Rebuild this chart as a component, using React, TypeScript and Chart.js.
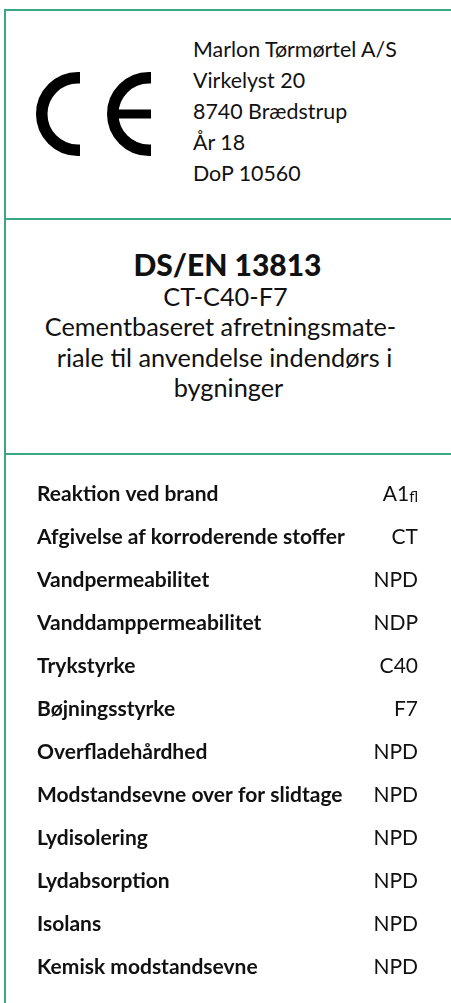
import React, { useEffect, useRef } from "react";
import { Chart, registerables } from "chart.js";

Chart.register(...registerables);

const GREEN = "#37a880";
const INK = "#111111";

const addressLines = ["Marlon Tørmørtel A/S", "Virkelyst 20", "8740 Brædstrup", "År 18", "DoP 10560"];
const standardTitle = "DS/EN 13813";
const productCode = "CT-C40-F7";
const descriptionLines = ["Cementbaseret afretningsmate-", "riale til anvendelse indendørs i", "bygninger"];

const properties = [
  "Reaktion ved brand",
  "Afgivelse af korroderende stoffer",
  "Vandpermeabilitet",
  "Vanddamppermeabilitet",
  "Trykstyrke",
  "Bøjningsstyrke",
  "Overfladehårdhed",
  "Modstandsevne over for slidtage",
  "Lydisolering",
  "Lydabsorption",
  "Isolans",
  "Kemisk modstandsevne",
];
const values = ["A1", "CT", "NPD", "NDP", "C40", "F7", "NPD", "NPD", "NPD", "NPD", "NPD", "NPD"];
const valueSubscripts = ["fl", "", "", "", "", "", "", "", "", "", "", ""];

const FONT = "Lato, 'Noto Sans', sans-serif";
const LABEL_SIZE = 21;
const VALUE_SIZE = 21;

function lineTop(baseline: number, fs: number) {
  return baseline - 0.887 * fs;
}

function TextLine(props: {
  text: string;
  baseline: number;
  fs: number;
  left?: number;
  center?: boolean;
  shift?: number;
  weight?: number;
}) {
  const { text, baseline, fs, left, center, shift, weight } = props;
  const style: React.CSSProperties = {
    position: "absolute",
    top: lineTop(baseline, fs),
    fontSize: fs,
    lineHeight: `${fs}px`,
    fontWeight: weight ?? 400,
    whiteSpace: "nowrap",
    color: INK,
  };
  if (center) {
    style.left = 4 + (shift ?? 0) * 2;
    style.width = 447;
    style.textAlign = "center";
  } else {
    style.left = left;
  }
  return <div style={style}>{text}</div>;
}

const valueColumnPlugin = {
  id: "valueColumn",
  afterDraw(chart: any) {
    const ctx = chart.ctx as CanvasRenderingContext2D;
    const yScale = chart.scales.y;
    const right = chart.chartArea.right;
    ctx.save();
    ctx.fillStyle = INK;
    values.forEach((v, i) => {
      const py = yScale.getPixelForValue(i);
      ctx.font = `400 ${VALUE_SIZE}px ${FONT}`;
      ctx.textBaseline = "middle";
      const m = ctx.measureText("H");
      const baseline = py + m.actualBoundingBoxDescent;
      ctx.textBaseline = "alphabetic";
      const sub = valueSubscripts[i];
      let sw = 0;
      if (sub) {
        ctx.font = `400 15px ${FONT}`;
        sw = ctx.measureText(sub).width;
        ctx.textAlign = "left";
        ctx.fillText(sub, right - sw, baseline + 1);
      }
      ctx.font = `400 ${VALUE_SIZE}px ${FONT}`;
      ctx.textAlign = "right";
      ctx.fillText(v, right - sw, baseline);
    });
    ctx.restore();
  },
};

function PropertyTable() {
  const ref = useRef<HTMLCanvasElement | null>(null);
  useEffect(() => {
    if (!ref.current) return;
    const chart = new Chart(ref.current, {
      type: "bar",
      data: {
        labels: properties,
        datasets: [],
      },
      options: {
        animation: false,
        responsive: true,
        maintainAspectRatio: false,
        indexAxis: "y",
        layout: { padding: { top: 18, bottom: 14, left: 37, right: 33 } },
        plugins: { legend: { display: false }, tooltip: { enabled: false } },
        events: [],
        scales: {
          x: { type: "linear", display: false },
          y: {
            type: "category",
            position: "left",
            offset: true,
            grid: { display: false },
            border: { display: false },
            afterFit: (scale: any) => {
              scale.width = 330;
            },
            ticks: {
              autoSkip: false,
              crossAlign: "far",
              padding: 0,
              color: INK,
              font: { family: FONT, size: LABEL_SIZE, weight: "bold" },
            },
          },
        },
      },
      plugins: [valueColumnPlugin],
    } as any);
    return () => chart.destroy();
  }, []);
  return (
    <div style={{ position: "absolute", left: 0, top: 455, width: 451, height: 548 }}>
      <canvas ref={ref} />
    </div>
  );
}

function CEMark() {
  return (
    <svg style={{ position: "absolute", left: 0, top: 0 }} width={200} height={200}>
      <defs>
        <clipPath id="clipC">
          <rect x={0} y={0} width={80} height={200} />
        </clipPath>
        <clipPath id="clipE">
          <rect x={90} y={0} width={61} height={200} />
        </clipPath>
      </defs>
      <circle cx={78} cy={114} r={36.25} fill="none" stroke="#000" strokeWidth={11.5} clipPath="url(#clipC)" />
      <circle cx={149} cy={114} r={36.25} fill="none" stroke="#000" strokeWidth={11.5} clipPath="url(#clipE)" />
      <rect x={115} y={109.5} width={36} height={9} fill="#000" />
    </svg>
  );
}

const descriptionShifts = [-7, -3, 1];

export default function App() {
  return (
    <div style={{ position: "relative", width: 451, height: 1003, overflow: "hidden", background: "#fff", fontFamily: FONT }}>
      <style>{`body{margin:0;background:#fff;}`}</style>
      <div style={{ position: "absolute", left: 4, top: 9, width: 460, height: 1010, borderLeft: `2px solid ${GREEN}`, borderTop: `2px solid ${GREEN}` }} />
      <div style={{ position: "absolute", left: 4, top: 218, width: 460, height: 2, background: GREEN }} />
      <div style={{ position: "absolute", left: 4, top: 453, width: 460, height: 2, background: GREEN }} />

      <CEMark />
      {addressLines.map((t, i) => (
        <TextLine key={t} text={t} baseline={58 + i * 31} fs={21.4} left={193} />
      ))}

      <TextLine text={standardTitle} baseline={276} fs={30} center weight={900} />
      <TextLine text={productCode} baseline={306} fs={25.3} center shift={-1} />
      {descriptionLines.map((t, i) => (
        <TextLine key={t} text={t} baseline={336.5 + i * 30.5} fs={25.3} center shift={descriptionShifts[i] / 2} />
      ))}

      <PropertyTable />
    </div>
  );
}
